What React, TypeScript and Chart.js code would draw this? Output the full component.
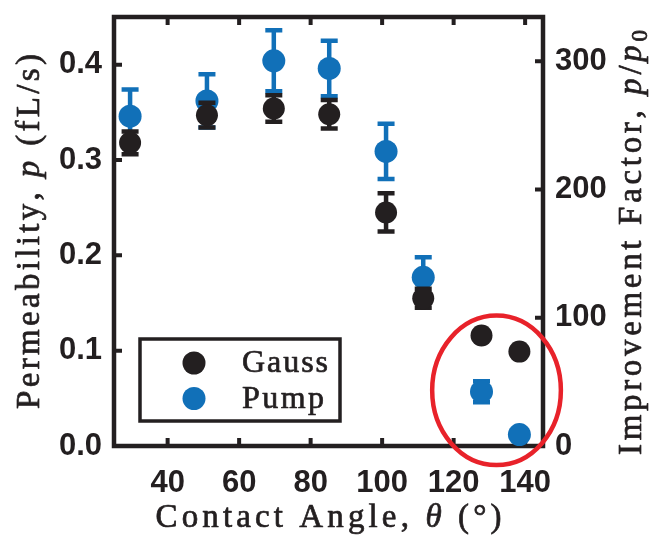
import React, { useEffect, useRef } from "react";
import { Chart, registerables } from "chart.js";

Chart.register(...registerables);

// Measured permeability vs. contact angle
const contactAngle = [29.5, 51.0, 69.7, 85.2, 101.1, 111.5, 127.8, 138.4];
const gaussPerm = [0.318, 0.347, 0.354, 0.348, 0.245, 0.155, 0.116, 0.099];
const gaussErr = [0.012, 0.013, 0.014, 0.015, 0.02, 0.01, 0.004, 0.004];
const pumpPerm = [0.346, 0.362, 0.404, 0.396, 0.309, 0.177, 0.057, 0.012];
const pumpErr = [0.028, 0.028, 0.032, 0.029, 0.029, 0.021, 0.011, 0];

// Axes
const angleRange = [25, 145];
const permRange = [0, 0.45];
const angleTicks = [40, 60, 80, 100, 120, 140];
const permTicks = [0, 0.1, 0.2, 0.3, 0.4];
const factorTicks = [0, 100, 200, 300];
const baselinePerm = 0.001345; // p0, the right axis shows p / p0

// Circled group of high-angle points (centre and half-axes in data units)
const highlightCenter = [132.0, 0.0584];
const highlightRadii = [18.0, 0.0784];

const BLACK = "#231f20";
const BLUE = "#1170b8";
const RED = "#e8222a";
const TICK_FONT = { family: "'Liberation Sans', Arial, sans-serif", size: 31, weight: "bold" as const };
const SERIF = "'Liberation Serif', 'Times New Roman', serif";

type Seg = { t: string; italic?: boolean; sub?: boolean };

function drawRich(
  ctx: CanvasRenderingContext2D,
  segs: Seg[],
  cx: number,
  cy: number,
  angle: number,
  size: number,
  targetWidth: number
) {
  ctx.save();
  ctx.translate(cx, cy);
  ctx.rotate(angle);
  ctx.fillStyle = BLACK;
  ctx.strokeStyle = BLACK;
  ctx.lineWidth = 0.7;
  ctx.lineJoin = "round";
  ctx.textBaseline = "middle";
  ctx.textAlign = "left";
  const fontFor = (s: Seg) => `${s.italic ? "italic " : ""}${s.sub ? Math.round(size * 0.7) : size}px ${SERIF}`;
  const glyphs: { ch: string; font: string; w: number; sub: boolean }[] = [];
  for (const s of segs) {
    ctx.font = fontFor(s);
    for (const ch of Array.from(s.t)) {
      glyphs.push({ ch, font: ctx.font, w: ctx.measureText(ch).width, sub: !!s.sub });
    }
  }
  const natural = glyphs.reduce((a, g) => a + g.w, 0);
  const spacing = Math.max(0, (targetWidth - natural) / Math.max(1, glyphs.length - 1));
  const total = natural + spacing * (glyphs.length - 1);
  let x = -total / 2;
  for (const g of glyphs) {
    ctx.font = g.font;
    const y = g.sub ? size * 0.28 : 0;
    ctx.fillText(g.ch, x, y);
    ctx.strokeText(g.ch, x, y);
    x += g.w + spacing;
  }
  ctx.restore();
}

const framePlugin = {
  id: "frame",
  beforeDatasetsDraw(chart: any) {
    const { ctx, chartArea: a, scales } = chart;
    ctx.save();
    ctx.strokeStyle = BLACK;
    ctx.lineWidth = 4.5;
    ctx.strokeRect(a.left, a.top, a.right - a.left, a.bottom - a.top);
    ctx.lineWidth = 4;
    const len = 8;
    ctx.beginPath();
    for (const v of angleTicks) {
      const px = scales.x.getPixelForValue(v);
      ctx.moveTo(px, a.bottom);
      ctx.lineTo(px, a.bottom - len);
      ctx.moveTo(px, a.top);
      ctx.lineTo(px, a.top + len);
    }
    for (const v of permTicks) {
      const py = scales.y.getPixelForValue(v);
      ctx.moveTo(a.left, py);
      ctx.lineTo(a.left + len, py);
    }
    for (const v of factorTicks) {
      const py = scales.y1.getPixelForValue(v);
      ctx.moveTo(a.right, py);
      ctx.lineTo(a.right - len, py);
    }
    ctx.stroke();
    ctx.restore();
  },
};

const CAP = 8.5;
const errorBarPlugin = {
  id: "errorBars",
  beforeDatasetDraw(chart: any, args: any) {
    const ds = chart.data.datasets[args.index];
    const errs: number[] | undefined = ds.errors;
    if (!errs) return;
    const { ctx, scales } = chart;
    ctx.save();
    ctx.strokeStyle = ds.backgroundColor;
    ctx.lineWidth = 4.5;
    ds.data.forEach((pt: { x: number; y: number }, i: number) => {
      const e = errs[i];
      if (!e) return;
      const px = scales.x.getPixelForValue(pt.x);
      const top = scales.y.getPixelForValue(pt.y + e);
      const bot = scales.y.getPixelForValue(pt.y - e);
      ctx.beginPath();
      ctx.moveTo(px, top);
      ctx.lineTo(px, bot);
      ctx.moveTo(px - CAP, top);
      ctx.lineTo(px + CAP, top);
      ctx.moveTo(px - CAP, bot);
      ctx.lineTo(px + CAP, bot);
      ctx.stroke();
    });
    ctx.restore();
  },
};

const overlayPlugin = {
  id: "overlay",
  afterDraw(chart: any) {
    const { ctx, chartArea: a, scales } = chart;
    const sx = scales.x;
    const sy = scales.y;

    // red ellipse around the high-angle points
    const cx = sx.getPixelForValue(highlightCenter[0]);
    const cy = sy.getPixelForValue(highlightCenter[1]);
    const rx = Math.abs(sx.getPixelForValue(highlightCenter[0] + highlightRadii[0]) - cx);
    const ry = Math.abs(sy.getPixelForValue(highlightCenter[1] + highlightRadii[1]) - cy);
    ctx.save();
    ctx.strokeStyle = RED;
    ctx.lineWidth = 4.5;
    ctx.beginPath();
    ctx.ellipse(cx, cy, rx, ry, 0, 0, Math.PI * 2);
    ctx.stroke();
    ctx.restore();

    // legend box
    const lx = a.left + 26;
    const ly = a.bottom - 107;
    const lw = 200;
    const lh = 82;
    ctx.save();
    ctx.fillStyle = "#ffffff";
    ctx.fillRect(lx, ly, lw, lh);
    ctx.strokeStyle = BLACK;
    ctx.lineWidth = 3.5;
    ctx.strokeRect(lx, ly, lw, lh);
    const entries = [
      { label: "Gauss", color: BLACK, width: 86 },
      { label: "Pump", color: BLUE, width: 82 },
    ];
    entries.forEach((en, i) => {
      const ey = ly + 24 + i * 35.5;
      ctx.fillStyle = en.color;
      ctx.beginPath();
      ctx.arc(lx + 54, ey, 11.5, 0, Math.PI * 2);
      ctx.fill();
      drawRich(ctx, [{ t: en.label }], lx + 102 + en.width / 2, ey + 1, 0, 32, en.width);
    });
    ctx.restore();

    // axis titles
    const midX = (a.left + a.right) / 2;
    const midY = (a.top + a.bottom) / 2;
    drawRich(
      ctx,
      [{ t: "Contact Angle, " }, { t: "θ", italic: true }, { t: " (°)" }],
      midX,
      a.bottom + 72,
      0,
      33,
      346
    );
    drawRich(
      ctx,
      [{ t: "Permeability, " }, { t: "p", italic: true }, { t: " (fL/s)" }],
      30,
      midY,
      -Math.PI / 2,
      33,
      355
    );
    drawRich(
      ctx,
      [
        { t: "Improvement Factor, " },
        { t: "p", italic: true },
        { t: "/" },
        { t: "p", italic: true },
        { t: "0", sub: true },
      ],
      632,
      midY + 11,
      -Math.PI / 2,
      33,
      425
    );
  },
};

const zeroPad = (s: any) => {
  s.paddingTop = 0;
  s.paddingBottom = 0;
  s.paddingLeft = 0;
  s.paddingRight = 0;
};

export default function App() {
  const ref = useRef<HTMLCanvasElement | null>(null);

  useEffect(() => {
    if (!ref.current) return;
    const chart = new Chart(ref.current, {
      type: "scatter",
      data: {
        datasets: [
          {
            label: "Gauss",
            data: contactAngle.map((x, i) => ({ x, y: gaussPerm[i] })),
            errors: gaussErr,
            backgroundColor: BLACK,
            borderWidth: 0,
            pointRadius: 11,
            pointHoverRadius: 11,
            clip: false,
            xAxisID: "x",
            yAxisID: "y",
          } as any,
          {
            label: "Pump",
            data: contactAngle.map((x, i) => ({ x, y: pumpPerm[i] })),
            errors: pumpErr,
            backgroundColor: BLUE,
            borderWidth: 0,
            pointRadius: 11.5,
            pointHoverRadius: 11.5,
            clip: false,
            xAxisID: "x",
            yAxisID: "y",
          } as any,
        ],
      },
      options: {
        animation: false,
        responsive: false,
        events: [],
        layout: { padding: { top: 17, left: 0, right: 0, bottom: 0 } },
        plugins: { legend: { display: false }, tooltip: { enabled: false } },
        scales: {
          x: {
            type: "linear",
            position: "bottom",
            min: angleRange[0],
            max: angleRange[1],
            grid: { display: false, drawTicks: false },
            border: { display: false },
            afterBuildTicks: (s: any) => {
              s.ticks = angleTicks.map((value) => ({ value }));
            },
            afterFit: (s: any) => {
              s.height = 92;
              zeroPad(s);
            },
            ticks: {
              font: TICK_FONT,
              color: BLACK,
              padding: 19,
              autoSkip: false,
              maxRotation: 0,
              callback: (v: any) => String(v),
            },
          },
          y: {
            type: "linear",
            position: "left",
            min: permRange[0],
            max: permRange[1],
            grid: { display: false, drawTicks: false },
            border: { display: false },
            afterBuildTicks: (s: any) => {
              s.ticks = permTicks.map((value) => ({ value }));
            },
            afterFit: (s: any) => {
              s.width = 114;
              zeroPad(s);
            },
            ticks: {
              font: TICK_FONT,
              color: BLACK,
              padding: 12,
              callback: (v: any) => Number(v).toFixed(1),
            },
          },
          y1: {
            type: "linear",
            position: "right",
            min: permRange[0] / baselinePerm,
            max: permRange[1] / baselinePerm,
            grid: { display: false, drawTicks: false },
            border: { display: false },
            afterBuildTicks: (s: any) => {
              s.ticks = factorTicks.map((value) => ({ value }));
            },
            afterFit: (s: any) => {
              s.width = 113;
              zeroPad(s);
            },
            ticks: {
              font: TICK_FONT,
              color: BLACK,
              padding: 12,
              callback: (v: any) => String(v),
            },
          },
        },
      },
      plugins: [framePlugin, errorBarPlugin, overlayPlugin],
    });
    return () => chart.destroy();
  }, []);

  return (
    <div style={{ position: "fixed", left: 0, top: 0, width: 656, height: 538, background: "#fff" }}>
      <canvas ref={ref} width={656} height={538} />
    </div>
  );
}
